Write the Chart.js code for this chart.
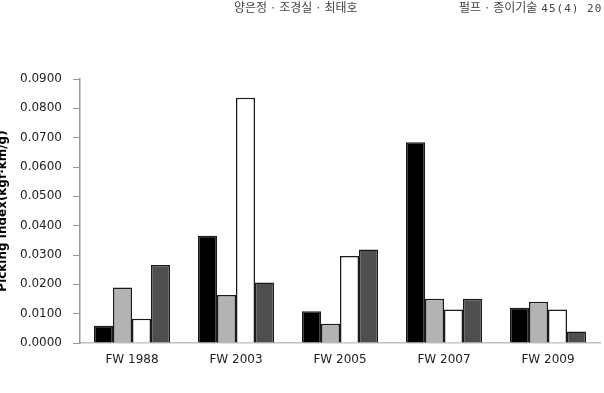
<!DOCTYPE html>
<html>
<head>
<meta charset="utf-8">
<script src="https://cdn.jsdelivr.net/npm/chart.js@4/dist/chart.umd.min.js"></script>
<style>
  html, body { margin: 0; padding: 0; background: #fff; }
  #wrap { position: relative; width: 604px; height: 393px; overflow: hidden; }
  canvas { position: absolute; left: 0; top: 0; }
  .hdr { position: absolute; top: -1px; font-family: "Noto Sans CJK KR", sans-serif; font-size: 12px; line-height: 16px; color: #444; white-space: nowrap; }
  .num { font-family: "DejaVu Sans Mono", monospace; font-size: 11px; margin-left: 4px; letter-spacing: 1px; }
</style>
</head>
<body>
<div id="wrap">
  <canvas id="c" width="604" height="393"></canvas>
  <div class="hdr" style="left:234px;">양은정 · 조경실 · 최태호</div>
  <div class="hdr" style="left:459px;">펄프 · 종이기술<span class="num">45(4) 20</span></div>
</div>
<script>
const categories = ["FW 1988", "FW 2003", "FW 2005", "FW 2007", "FW 2009"];
const seriesBlack = [0.0059, 0.0366, 0.0108, 0.0684, 0.0120];
const seriesGray  = [0.0189, 0.0164, 0.0066, 0.0151, 0.0141];
const seriesWhite = [0.0083, 0.0836, 0.0297, 0.0114, 0.0114];
const seriesDark  = [0.0266, 0.0206, 0.0319, 0.0151, 0.0039];
const yMin = 0, yMax = 0.09, yStep = 0.01;
const yTitle = "Picking index(kgf·km/g)";

const yTitlePlugin = {
  id: 'yTitlePlugin',
  afterDraw(chart) {
    const ctx = chart.ctx;
    const area = chart.chartArea;
    ctx.save();
    ctx.translate(6, (area.top + area.bottom) / 2);
    ctx.rotate(-Math.PI / 2);
    ctx.font = 'bold 12px "DejaVu Sans"';
    ctx.fillStyle = '#000';
    ctx.textAlign = 'center';
    ctx.textBaseline = 'alphabetic';
    ctx.fillText(yTitle, 0, 0);
    ctx.restore();
  }
};

function ds(data, bg) {
  return {
    data: data,
    backgroundColor: bg,
    borderColor: '#1a1a1a',
    borderWidth: 1.5,
    barPercentage: 1.0,
    categoryPercentage: 0.731
  };
}

new Chart(document.getElementById('c'), {
  type: 'bar',
  data: {
    labels: categories,
    datasets: [
      ds(seriesBlack, '#000000'),
      ds(seriesGray, '#b3b3b3'),
      ds(seriesWhite, '#ffffff'),
      ds(seriesDark, '#4f4f4f')
    ]
  },
  options: {
    responsive: false,
    animation: false,
    layout: { padding: { top: 79, right: 4, left: 0, bottom: 0 } },
    plugins: { legend: { display: false }, tooltip: { enabled: false } },
    scales: {
      x: {
        grid: { display: false, drawTicks: false },
        border: { display: true, color: '#bdbdbd', width: 1.5 },
        ticks: { color: '#222', font: { family: 'DejaVu Sans', size: 12 }, padding: 10, maxRotation: 0 },
        afterFit(s) { s.height = 50; }
      },
      y: {
        min: yMin, max: yMax,
        grid: { display: true, drawOnChartArea: false, drawTicks: true, tickLength: 7, color: '#999' },
        border: { display: true, color: '#999', width: 1.5 },
        ticks: {
          stepSize: yStep,
          color: '#222',
          font: { family: 'DejaVu Sans', size: 12 },
          padding: 11,
          callback: v => Number(v).toFixed(4)
        },
        afterFit(s) { s.width = 80; }
      }
    }
  },
  plugins: [yTitlePlugin]
});
</script>
</body>
</html>
